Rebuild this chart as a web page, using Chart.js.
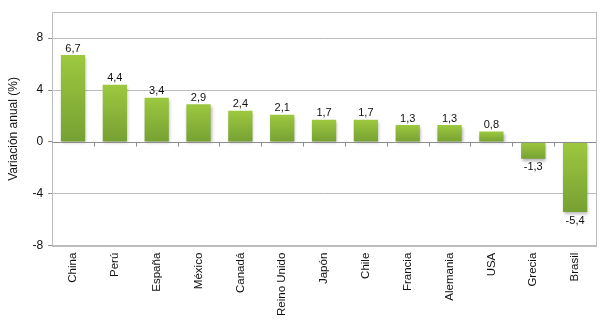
<!DOCTYPE html>
<html>
<head>
<meta charset="utf-8">
<script src="https://cdn.jsdelivr.net/npm/chart.js@4/dist/chart.umd.min.js"></script>
<style>
  html, body { margin: 0; padding: 0; background: #fff; }
  #wrap { width: 606px; height: 323px; }
</style>
</head>
<body>
<div id="wrap"><canvas id="growthChart" width="606" height="323"></canvas></div>
<script>
const countries = ["China", "Perú", "España", "México", "Canadá", "Reino Unido", "Japón", "Chile", "Francia", "Alemania", "USA", "Grecia", "Brasil"];
const growth = [6.7, 4.4, 3.4, 2.9, 2.4, 2.1, 1.7, 1.7, 1.3, 1.3, 0.8, -1.3, -5.4];
const yTicks = [-8, -4, 0, 4, 8];

const fmt = v => v.toFixed(1).replace('.', ',');

// green gradient per bar: lighter at the top, darker at the bottom
function barFill(c) {
  const y = c.chart.scales.y;
  if (!y || c.raw === undefined || !isFinite(y.getPixelForValue(0))) return '#88b337';
  const ctx = c.chart.ctx;
  const pv = y.getPixelForValue(c.raw), p0 = y.getPixelForValue(0);
  const g = ctx.createLinearGradient(0, Math.min(pv, p0), 0, Math.max(pv, p0));
  g.addColorStop(0, '#9dc83f');
  g.addColorStop(1, '#76a133');
  return g;
}

const extras = {
  id: 'extras',
  beforeDatasetsDraw(chart) {
    const ctx = chart.ctx;
    ctx.save();
    ctx.shadowColor = 'rgba(0,0,0,0.3)';
    ctx.shadowBlur = 3;
    ctx.shadowOffsetX = 1;
    ctx.shadowOffsetY = 2;
  },
  afterDatasetsDraw(chart) {
    const ctx = chart.ctx;
    ctx.restore();
    const { left, right, top, bottom } = chart.chartArea;
    const y = chart.scales.y;
    const y0 = Math.round(y.getPixelForValue(0)) + 0.5;

    ctx.save();
    // plot border
    ctx.strokeStyle = '#bdbdbd';
    ctx.lineWidth = 1;
    ctx.strokeRect(Math.round(left) + 0.5, Math.round(top) + 0.5, Math.round(right - left), Math.round(bottom - top));

    // zero axis with category tick marks
    ctx.strokeStyle = '#8c8c8c';
    ctx.beginPath();
    ctx.moveTo(left, y0); ctx.lineTo(right, y0);
    const step = (right - left) / countries.length;
    for (let i = 1; i < countries.length; i++) {
      const px = Math.round(left + i * step) + 0.5;
      ctx.moveTo(px, y0); ctx.lineTo(px, y0 + 4);
    }
    ctx.stroke();

    // value labels
    ctx.fillStyle = '#111';
    ctx.font = '11px "Liberation Sans", Arial, sans-serif';
    ctx.textAlign = 'center';
    const meta = chart.getDatasetMeta(0);
    meta.data.forEach((bar, i) => {
      const v = growth[i];
      if (v >= 0) {
        ctx.textBaseline = 'bottom';
        ctx.fillText(fmt(v), bar.x, bar.y - 1);
      } else {
        ctx.textBaseline = 'top';
        ctx.fillText(fmt(v), bar.x, bar.y + 3);
      }
    });
    ctx.restore();
  }
};

new Chart(document.getElementById('growthChart'), {
  type: 'bar',
  data: {
    labels: countries,
    datasets: [{
      data: growth,
      backgroundColor: barFill,
      borderWidth: 0,
      barPercentage: 0.58,
      categoryPercentage: 1.0
    }]
  },
  options: {
    responsive: false,
    animation: false,
    events: [],
    layout: { padding: { top: 12, right: 10, left: 6, bottom: 0 } },
    plugins: {
      legend: { display: false },
      tooltip: { enabled: false }
    },
    scales: {
      x: {
        grid: { display: false, drawTicks: false },
        border: { display: false },
        ticks: {
          color: '#111',
          font: { family: '"Liberation Sans", Arial, sans-serif', size: 11.5 },
          minRotation: 90,
          maxRotation: 90,
          padding: 7,
          autoSkip: false
        }
      },
      y: {
        min: -8,
        max: 10,
        afterBuildTicks(scale) {
          scale.ticks = yTicks.map(v => ({ value: v }));
        },
        grid: {
          color: c => c.tick && c.tick.value === 0 ? 'rgba(0,0,0,0)' : '#bdbdbd',
          drawTicks: true,
          tickLength: 4,
          tickColor: '#8c8c8c'
        },
        border: { display: true, color: '#bdbdbd' },
        ticks: {
          color: '#111',
          font: { family: '"Liberation Sans", Arial, sans-serif', size: 12 },
          padding: 5
        },
        title: {
          display: true,
          text: 'Variación anual (%)',
          color: '#111',
          font: { family: '"Liberation Sans", Arial, sans-serif', size: 12 },
          padding: { top: 0, bottom: 7 }
        }
      }
    }
  },
  plugins: [extras]
});
</script>
</body>
</html>
